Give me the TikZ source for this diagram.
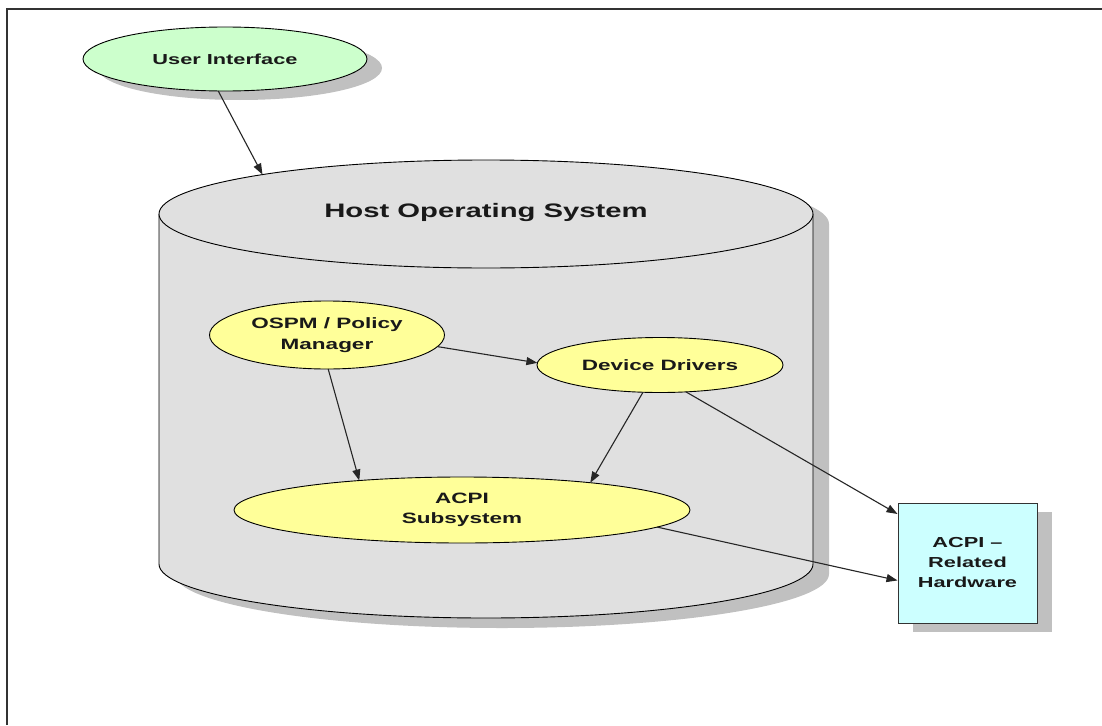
\documentclass[tikz,border=0pt]{standalone}
\usepackage{fontspec}
\setmainfont{Liberation Sans}[FakeStretch=1.5]
\usetikzlibrary{shapes.geometric,arrows.meta,shadows}
\definecolor{cylfill}{HTML}{E0E0E0}
\definecolor{shadowgray}{HTML}{C0C0C0}
\definecolor{uigreen}{HTML}{CCFFCC}
\definecolor{ellyellow}{HTML}{FFFF99}
\definecolor{hwcyan}{HTML}{CCFFFF}
\begin{document}
\begin{tikzpicture}[x=1pt,y=-1pt,
  lbl/.style={font=\bfseries\fontsize{15}{20.5}\selectfont, align=center, text=black!90},
  oval/.style={ellipse, draw=black, line width=0.9pt, inner sep=0pt, outer sep=0pt},
  conn/.style={-{Triangle[length=11pt,width=8pt]}, line width=1.1pt, draw=black!85},
  shad/.style={drop shadow={shadow xshift=15pt, shadow yshift=-9pt, fill=shadowgray, opacity=1}}
]
\useasboundingbox (0,0) rectangle (1102,725);
\fill[white] (0,0) rectangle (1102,725);
% frame
\draw[line width=1.5pt, black!80] (7,725) -- (7,9) -- (1102,9);

% cylinder shadow
\fill[shadowgray] (175,224) -- (175,574) arc[start angle=180, end angle=0, x radius=327, y radius=54]
  -- (829,224) arc[start angle=0, end angle=-180, x radius=327, y radius=54] -- cycle;
% cylinder body
\path[fill=cylfill] (159,214) -- (159,564) arc[start angle=180, end angle=0, x radius=327, y radius=54] -- (813,214) -- cycle;
\draw[line width=0.9pt] (159,214) -- (159,564) arc[start angle=180, end angle=0, x radius=327, y radius=54] -- (813,214);
% cylinder top
\node[oval, fill=cylfill, minimum width=654pt, minimum height=108pt] (host) at (486,214) {};
\node[lbl, font=\bfseries\fontsize{19.5}{24}\selectfont] (hostlbl) at (486,212) {Host Operating System};

% nodes
\node[oval, fill=uigreen, shad, minimum width=284pt, minimum height=64pt, lbl,
      font=\bfseries\fontsize{14.5}{19}\selectfont] (ui) at (225,59) {User Interface};
\node[oval, fill=ellyellow, minimum width=235pt, minimum height=68pt, lbl] (ospm) at (327,335) {OSPM / Policy\\Manager};
\node[oval, fill=ellyellow, minimum width=246pt, minimum height=55pt, lbl] (dd) at (660,365) {Device Drivers};
\node[oval, fill=ellyellow, minimum width=456pt, minimum height=66pt, lbl] (acpi) at (462,510) {ACPI\\Subsystem};
\node[rectangle, draw=black!80, line width=1pt, fill=hwcyan, shad, minimum width=139pt, minimum height=120pt,
      inner sep=0pt, lbl, font=\bfseries\fontsize{14.5}{20}\selectfont] (hw) at (967.5,563) {ACPI –\\Related\\Hardware};

% connectors
\draw[conn] (ui.-102) -- (host.170.6);
\draw[conn] (ospm.-6.1) -- (dd.179);
\draw[conn] (ospm.-88) -- (acpi.164.6);
\draw[conn] (dd.-122.7) -- (acpi.12.2);
\draw[conn] (dd.-46) -- (hw.145.4);
\draw[conn] (acpi.-5.65) -- (hw.-166.3);
\end{tikzpicture}
\end{document}
